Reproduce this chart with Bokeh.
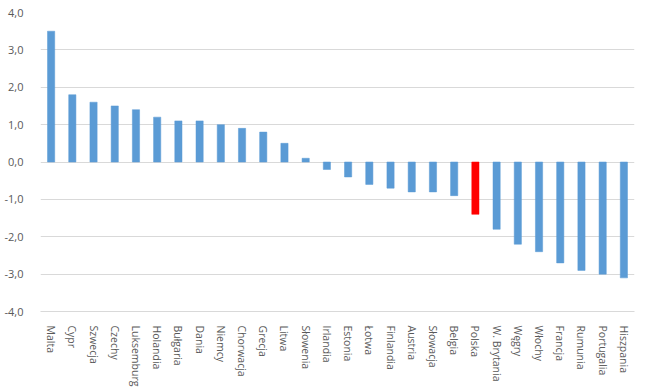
from bokeh.plotting import figure
from bokeh.models import ColumnDataSource, FactorRange, Range1d, FixedTicker
from bokeh.embed import file_html
from bokeh.resources import INLINE

countries = ["Malta", "Cypr", "Szwecja", "Czechy", "Luksemburg", "Holandia", "Bułgaria",
             "Dania", "Niemcy", "Chorwacja", "Grecja", "Litwa", "Słowenia", "Irlandia",
             "Estonia", "Łotwa", "Finlandia", "Austria", "Słowacja", "Belgia", "Polska",
             "W. Brytania", "Węgry", "Włochy", "Francja", "Rumunia", "Portugalia", "Hiszpania"]
values = [3.5, 1.8, 1.6, 1.5, 1.4, 1.2, 1.1, 1.1, 1.0, 0.9, 0.8, 0.5, 0.1, -0.2,
          -0.4, -0.6, -0.7, -0.8, -0.8, -0.9, -1.4, -1.8, -2.2, -2.4, -2.7, -2.9, -3.0, -3.1]
highlight = "Polska"
y_ticks = [-4, -3, -2, -1, 0, 1, 2, 3, 4]
y_tick_labels = ["-4,0", "-3,0", "-2,0", "-1,0", "0,0", "1,0", "2,0", "3,0", "4,0"]

colors = ["#FF0000" if c == highlight else "#5B9BD5" for c in countries]
src = ColumnDataSource(dict(x=countries, top=values, color=colors))

p = figure(width=645, height=389, x_range=FactorRange(*countries, range_padding=0),
           y_range=Range1d(-4, 4), output_backend="svg", toolbar_location=None,
           min_border_left=40, min_border_right=11, min_border_top=12, min_border_bottom=78)
p.outline_line_color = None
p.vbar(x="x", top="top", bottom=0, width=0.34, source=src, fill_color="color",
       line_color="color", line_width=0.5)

p.xgrid.grid_line_color = None
p.ygrid.grid_line_color = "#D9D9D9"
p.ygrid.grid_line_width = 1
p.ygrid.ticker = FixedTicker(ticks=y_ticks)

p.yaxis.ticker = FixedTicker(ticks=y_ticks)
p.yaxis.major_label_overrides = {t: l for t, l in zip(y_ticks, y_tick_labels)}
p.yaxis.axis_line_color = None
p.yaxis.major_tick_line_color = None
p.yaxis.minor_tick_line_color = None
p.yaxis.major_label_standoff = 11
p.yaxis.major_label_text_font = "Open Sans"
p.yaxis.major_label_text_font_size = "11px"
p.yaxis.major_label_text_color = "#595959"

p.xaxis.axis_line_color = "#D9D9D9"
p.xaxis.major_tick_line_color = None
p.xaxis.minor_tick_line_color = None
p.xaxis.major_label_orientation = "vertical"
p.xaxis.major_label_standoff = 8
p.xaxis.major_label_text_font = "Open Sans"
p.xaxis.major_label_text_font_size = "10.5px"
p.xaxis.major_label_text_color = "#595959"

open("out.html", "w").write(file_html(p, INLINE))
